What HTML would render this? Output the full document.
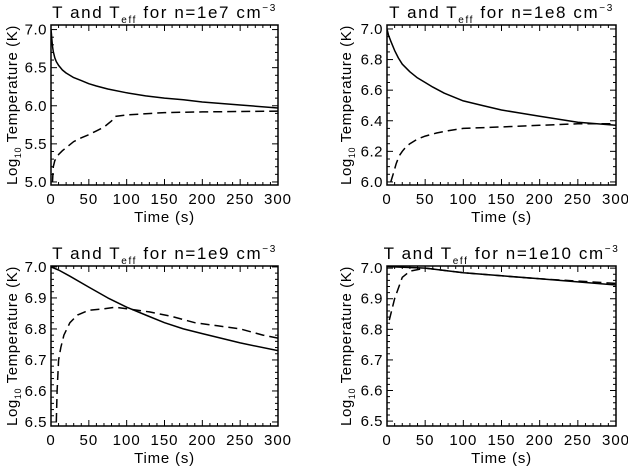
<!DOCTYPE html>
<html><head><meta charset="utf-8"><style>
html,body{margin:0;padding:0;background:#fff;}
svg{display:block;font-family:"Liberation Sans",sans-serif;}
</style></head><body>
<svg id="fig" width="628" height="468" viewBox="0 0 628 468"></svg>
<script>
// Panel data
const titles = ["1e7","1e8","1e9","1e10"];
const tTL_solid = [0,0.5,1,2,3,5,7,10,15,20,30,40,50,60,75,100,125,150,175,200,250,300];
const vTL_solid = [7.0,6.95,6.88,6.78,6.71,6.63,6.58,6.53,6.47,6.43,6.37,6.33,6.29,6.26,6.22,6.17,6.13,6.10,6.08,6.05,6.01,5.97];
const tTL_dash = [2,3,5,10,15,20,30,40,50,60,70,80,85,100,150,200,300];
const vTL_dash = [5.0,5.2,5.28,5.36,5.41,5.45,5.53,5.58,5.62,5.67,5.72,5.8,5.86,5.88,5.91,5.92,5.93];
const tTR_solid = [0,2,5,10,15,20,30,40,50,60,75,100,125,150,175,200,250,300];
const vTR_solid = [7.0,6.96,6.92,6.86,6.81,6.77,6.72,6.68,6.65,6.62,6.58,6.53,6.50,6.47,6.45,6.43,6.39,6.37];
const tTR_dash = [5,8,12,16,20,25,30,40,50,65,80,100,150,200,250,300];
const vTR_dash = [6.0,6.05,6.12,6.17,6.2,6.23,6.25,6.28,6.3,6.32,6.335,6.35,6.36,6.37,6.38,6.38];
const tBL_solid = [0,10,25,50,75,100,125,150,175,200,250,300];
const vBL_solid = [7.0,6.99,6.97,6.935,6.90,6.87,6.845,6.82,6.80,6.785,6.755,6.73];
const tBL_dash = [7,8,10,13,17,25,35,50,70,85,100,130,160,190,220,250,280,300];
const vBL_dash = [6.5,6.6,6.7,6.74,6.78,6.82,6.845,6.86,6.865,6.87,6.865,6.855,6.84,6.82,6.81,6.80,6.78,6.77];
const tBR_solid = [0,50,100,150,200,250,300];
const vBR_solid = [7.005,7.0,6.985,6.975,6.965,6.955,6.945];
const tBR_dash = [3,10,20,30,50,100,150,200,300];
const vBR_dash = [6.83,6.9,6.97,6.99,7.0,6.985,6.975,6.965,6.95];
const xTicks = [0,50,100,150,200,250,300];
const yTicksTL = ["5.0","5.5","6.0","6.5","7.0"];
const yTicksTR = ["6.0","6.2","6.4","6.6","6.8","7.0"];
const yTicksB = ["6.5","6.6","6.7","6.8","6.9","7.0"];

const panels = [
 {name:"1e7",x0:51,x1:278,y0:25,y1:185,ymin:4.96,ymax:7.06,yt:yTicksTL,minor:0.1,ts:tTL_solid,vs:vTL_solid,td:tTL_dash,vd:vTL_dash,ylx:12},
 {name:"1e8",x0:387,x1:616,y0:25,y1:185,ymin:5.98,ymax:7.026,yt:yTicksTR,minor:0.05,ts:tTR_solid,vs:vTR_solid,td:tTR_dash,vd:vTR_dash,ylx:346},
 {name:"1e9",x0:51,x1:278,y0:266,y1:426,ymin:6.487,ymax:7.003,yt:yTicksB,minor:0.02,ts:tBL_solid,vs:vBL_solid,td:tBL_dash,vd:vBL_dash,ylx:12},
 {name:"1e10",x0:387,x1:616,y0:266,y1:426,ymin:6.484,ymax:7.007,yt:yTicksB,minor:0.02,ts:tBR_solid,vs:vBR_solid,td:tBR_dash,vd:vBR_dash,ylx:346}
];
const NS="http://www.w3.org/2000/svg";
const svg=document.getElementById('fig');
function mk(tag,attrs,parent,text){const e=document.createElementNS(NS,tag);for(const k in attrs)e.setAttribute(k,attrs[k]);if(text!==undefined)e.textContent=text;parent.appendChild(e);return e;}
panels.forEach(p=>{
 const g=mk('g',{},svg);
 
 
 const X=t=>p.x0+(t/300)*(p.x1-p.x0);
 const Y=v=>p.y1-(v-p.ymin)/(p.ymax-p.ymin)*(p.y1-p.y0);
 const box=mk('rect',{x:p.x0,y:p.y0,width:p.x1-p.x0,height:p.y1-p.y0,fill:'none',stroke:'#000','stroke-width':1.5},g);
 
 
 for(let t=0;t<=300;t+=10){const L=(t%50===0)?6:3;
  mk('line',{x1:X(t),x2:X(t),y1:p.y1,y2:p.y1-L,stroke:'#000'},g);
  mk('line',{x1:X(t),x2:X(t),y1:p.y0,y2:p.y0+L,stroke:'#000'},g);}
 xTicks.forEach(t=>{const tx=mk('text',{x:X(t),y:p.y1+19,'font-size':15,'letter-spacing':1,'text-anchor':'middle'},g,String(t));
  
  });
 const ylo=parseFloat(p.yt[0]),yhi=parseFloat(p.yt[p.yt.length-1]);
 const n=Math.round((yhi-ylo)/p.minor);
 const per=Math.round((parseFloat(p.yt[1])-ylo)/p.minor);
 for(let i=0;i<=n;i++){const v=ylo+i*p.minor;const L=(i%per===0)?6:3;
  mk('line',{x1:p.x0,x2:p.x0+L,y1:Y(v),y2:Y(v),stroke:'#000'},g);
  mk('line',{x1:p.x1,x2:p.x1-L,y1:Y(v),y2:Y(v),stroke:'#000'},g);}
 p.yt.forEach(s=>{const tx=mk('text',{x:p.x0-4,y:Y(parseFloat(s))+5,'font-size':15,'letter-spacing':0.5,'text-anchor':'end'},g,s);
  
  });
 const xl=mk('text',{x:(p.x0+p.x1)/2,y:p.y1+37,'font-size':15,'letter-spacing':0.8,'text-anchor':'middle'},g,'Time (s)');
 
 
 const yc=(p.y0+p.y1)/2;
 const yl=mk('text',{x:0,y:0,'font-size':15,'letter-spacing':0.6,'text-anchor':'middle',transform:`translate(${p.ylx+5},${yc}) rotate(-90)`},g);
 
 
 yl.innerHTML='Log<tspan font-size="9" dy="4">10</tspan><tspan dy="-4"> Temperature (K)</tspan>';
 const ti=mk('text',{x:(p.x0+p.x1)/2,y:p.y0-7,'font-size':17,'letter-spacing':1.6,'text-anchor':'middle'},g);
 
 
 ti.innerHTML='T and T<tspan font-size="10" dy="5">eff</tspan><tspan dy="-5"> for n='+p.name+' cm</tspan><tspan font-size="10" dy="-7">−3</tspan>';
 const cp=mk('clipPath',{id:'c'+p.name},g);mk('rect',{x:p.x0,y:p.y0,width:p.x1-p.x0,height:p.y1-p.y0},cp);
 const sd=p.ts.map((t,i)=>(i?'L':'M')+X(t).toFixed(1)+','+Y(p.vs[i]).toFixed(1)).join('');
 const s=mk('path',{d:sd,fill:'none',stroke:'#000','stroke-width':1.5,'stroke-linejoin':'round','clip-path':`url(#c${p.name})`},g);
 
 
 const dd=p.td.map((t,i)=>(i?'L':'M')+X(t).toFixed(1)+','+Y(p.vd[i]).toFixed(1)).join('');
 const d=mk('path',{d:dd,fill:'none',stroke:'#000','stroke-width':1.5,'stroke-dasharray':'9,5','clip-path':`url(#c${p.name})`},g);
 
 
});
</script>
</body></html>
